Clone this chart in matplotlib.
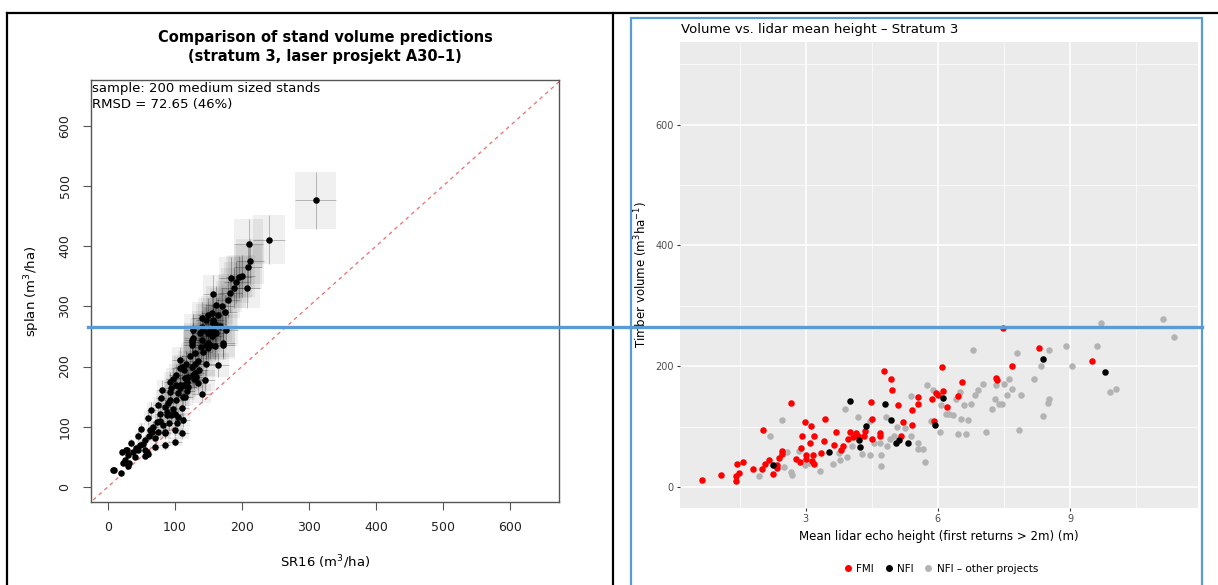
import numpy as np
import matplotlib.pyplot as plt
from matplotlib.patches import Rectangle
from matplotlib.lines import Line2D
from matplotlib.collections import PatchCollection, LineCollection

W, H = 1218, 585

# left panel: SR16 vs splan (m3/ha), 200 medium sized stands
sr16 = [310, 240, 210, 212, 209, 207, 196, 184, 182, 179, 162, 157, 155, 150, 147, 140,
        127, 137, 142, 150, 157, 177, 172, 160, 152, 150, 139, 130, 126, 122, 117, 146,
        165, 107, 110, 125, 132, 120, 114, 102, 97, 93, 102, 95, 81, 107, 113,
        125, 147, 130, 107, 115, 127, 107, 93, 105, 80, 93, 102, 75, 85, 97, 110, 65,
        78, 88, 100, 92, 60, 73, 83, 50, 63, 75, 85, 45, 55, 70, 110, 35, 42, 55, 70,
        28, 30, 25, 40, 55, 60, 30, 32, 23, 10, 8, 20, 112, 100, 100, 85, 105, 115,
        120, 135, 145, 140, 104, 59, 21, 27, 86,
        157, 157, 140, 152, 162, 127, 140, 150, 172, 125,
        90, 68, 48, 118, 135, 142, 165, 170, 188, 192, 130, 112, 95, 78, 62, 38, 45,
        52, 66, 88, 118, 128, 136, 155, 160, 200, 175, 168]
splan = [476, 411, 404, 375, 366, 330, 349, 347, 322, 311, 303, 320, 289, 285, 277, 280,
         261, 255, 261, 255, 261, 261, 236, 234, 236, 231, 232, 222, 244, 217, 205, 205,
         203, 211, 200, 200, 183, 183, 194, 186, 180, 174, 169, 164, 161, 164, 169,
         241, 236, 205, 197, 181, 186, 170, 158, 156, 147, 145, 145, 136, 133, 130, 131, 128,
         122, 120, 122, 106, 114, 108, 103, 97, 94, 91, 91, 84, 78, 81, 89, 73, 65, 62, 67,
         61, 53, 45, 50, 52, 55, 34, 39, 39, 28, 28, 23, 111, 94, 75, 69, 116, 150,
         166, 172, 177, 155, 106, 58, 58, 61, 89,
         277, 272, 266, 261, 255, 247, 244, 239, 239, 236,
         140, 100, 70, 175, 210, 225, 285, 300, 330, 340, 190, 150, 120, 110, 85, 58, 62,
         72, 92, 125, 160, 180, 195, 250, 270, 350, 290, 268]

# right panel: timber volume vs lidar mean height
fmi_x = [0.65, 1.08, 1.42, 1.42, 1.49, 1.44, 1.57, 1.81, 2.01, 2.07, 2.17, 2.25, 2.35, 2.36,
         2.40, 2.47, 2.47, 2.04, 2.66, 2.79, 2.87, 2.89, 2.92, 2.98, 3.01, 3.00, 3.13, 3.11,
         3.19, 3.17, 3.20, 3.15, 3.35, 3.41, 3.44, 3.65, 3.69, 3.80, 3.85, 3.96, 4.00, 4.08,
         4.14, 4.18, 4.33, 4.35, 4.48, 4.50, 4.51, 4.68, 4.68, 4.77, 4.94, 4.96, 5.10, 5.16,
         5.21, 5.41, 5.42, 5.54, 5.55, 5.87, 5.92, 5.95, 6.00, 6.10, 6.11, 6.20, 6.45, 6.54,
         7.32, 7.33, 7.48, 7.69, 8.30, 9.49]
fmi_y = [11, 19, 9, 18, 23, 38, 42, 30, 29, 38, 44, 21, 32, 36,
         48, 54, 59, 94, 139, 47, 41, 64, 84, 108, 47, 52, 101, 72,
         85, 53, 38, 43, 56, 76, 112, 70, 91, 61, 67, 80, 91, 83,
         90, 84, 84, 92, 140, 112, 80, 90, 84, 192, 179, 160, 135, 85,
         107, 102, 128, 149, 138, 145, 109, 155, 152, 198, 159, 133, 150, 173,
         180, 177, 263, 201, 230, 208]
nfi_x = [2.26, 3.53, 4.00, 4.36, 4.20, 4.23, 4.79, 4.93, 5.06, 5.12, 5.32, 5.93, 6.12, 8.39, 9.78]
nfi_y = [36, 57, 143, 101, 78, 66, 138, 110, 73, 77, 73, 102, 147, 212, 190]
other_x = [1.95, 2.20, 2.46, 2.50, 2.67, 2.69, 2.57, 2.84, 3.07, 3.33, 3.61, 3.78, 3.76, 3.93,
           3.90, 4.05, 4.19, 4.27, 4.45, 4.45, 4.54, 4.68, 4.72, 4.70, 4.83, 4.85, 4.92, 5.00,
           5.08, 5.25, 5.38, 5.40, 5.55, 5.55, 5.66, 5.71, 5.75, 5.84, 5.90, 6.05, 6.07, 6.19,
           6.26, 6.35, 6.42, 6.51, 6.53, 6.46, 6.60, 6.64, 6.68, 6.75, 6.79, 6.84, 6.92, 7.03,
           7.09, 7.23, 7.29, 7.31, 7.38, 7.45, 7.50, 7.56, 7.62, 7.67, 7.80, 7.85, 7.89, 8.17,
           8.34, 8.39, 8.49, 8.51, 8.51, 8.91, 9.04, 9.60, 9.69, 9.90, 10.05, 11.11, 11.35, 2.98]
other_y = [18, 85, 111, 33, 25, 20, 58, 60, 39, 26, 38, 45, 56, 50,
           129, 68, 115, 54, 53, 109, 73, 73, 52, 34, 115, 68, 79, 84,
           100, 98, 84, 150, 72, 62, 62, 41, 168, 109, 160, 91, 135, 120,
           120, 119, 146, 157, 112, 87, 136, 88, 111, 137, 226, 152, 160, 171,
           91, 129, 145, 168, 138, 137, 171, 152, 179, 162, 221, 94, 152, 178,
           201, 117, 139, 146, 226, 234, 201, 234, 272, 158, 162, 278, 248, 37]

fig = plt.figure(figsize=(W / 100, H / 100), dpi=100)
plt.rcParams['font.family'] = ['DejaVu Sans']


def fx(x):
    return x / W


def fy(y):
    return 1 - y / H


# ---- left panel (R base graphics look) ----
ax1 = fig.add_axes([fx(91), fy(502), fx(559) - fx(91), fy(80) - fy(502)])
xs = np.array(sr16, float)
ys = np.array(splan, float)
# +-10% uncertainty boxes and crosses behind each stand
boxes = [Rectangle((x * 0.9, y * 0.9), x * 0.2, y * 0.2) for x, y in zip(xs, ys)]
ax1.add_collection(PatchCollection(boxes, facecolor='black', edgecolor='none', alpha=0.06))
segs = [[(x * 0.9, y), (x * 1.1, y)] for x, y in zip(xs, ys)]
segs += [[(x, y * 0.9), (x, y * 1.1)] for x, y in zip(xs, ys)]
ax1.add_collection(LineCollection(segs, colors='black', linewidths=0.7, alpha=0.25))
ax1.plot([-30, 700], [-30, 700], color='#e8474a', lw=0.9, ls=(0, (3, 3)), alpha=0.8)
ax1.scatter(xs, ys, s=22, color='black', zorder=3, linewidths=0)
ax1.set_xlim(-25, 673)
ax1.set_ylim(-25, 676)
ax1.set_xticks(range(0, 700, 100))
ax1.set_yticks(range(0, 700, 100))
for s in ax1.spines.values():
    s.set_color('#555555')
    s.set_linewidth(1.0)
ax1.tick_params(length=6, color='#555555', labelsize=9, labelcolor='#222222', pad=8)
for lab in ax1.get_yticklabels():
    lab.set_rotation(90)
    lab.set_va('center')
ax1.set_xlabel('SR16 (m$^3$/ha)', fontsize=9.5, labelpad=14)
ax1.set_ylabel('splan (m$^3$/ha)', fontsize=9.5, labelpad=12)
ax1.text(0.003, 0.995, 'sample: 200 medium sized stands\nRMSD = 72.65 (46%)',
         transform=ax1.transAxes, ha='left', va='top', fontsize=9.5, linespacing=1.25)
fig.text(fx(325), fy(47), 'Comparison of stand volume predictions\n(stratum 3, laser prosjekt A30\u20131)',
         ha='center', va='center', fontsize=10.5, fontweight='bold', linespacing=1.3)

# ---- right panel (ggplot look) ----
ax2 = fig.add_axes([fx(680), fy(508), fx(1198) - fx(680), fy(42) - fy(508)])
ax2.set_facecolor('#ebebeb')
ax2.scatter(other_x, other_y, s=22, color='#b3b3b3', linewidths=0, zorder=3)
ax2.scatter(fmi_x, fmi_y, s=22, color='#ff0000', linewidths=0, zorder=4)
ax2.scatter(nfi_x, nfi_y, s=22, color='black', linewidths=0, zorder=5)
ax2.set_xlim(0.15, 11.9)
ax2.set_ylim(-35, 737)
ax2.set_xticks([3, 6, 9])
ax2.set_xticks([1.5, 4.5, 7.5, 10.5], minor=True)
ax2.set_yticks([0, 200, 400, 600])
ax2.set_yticks([100, 300, 500, 700], minor=True)
ax2.grid(which='major', color='white', lw=1.1)
ax2.grid(which='minor', color='white', lw=0.5)
ax2.set_axisbelow(True)
for s in ax2.spines.values():
    s.set_visible(False)
ax2.tick_params(which='major', length=2.5, color='#333333', labelsize=7, labelcolor='#4d4d4d', pad=2)
ax2.tick_params(which='minor', length=0)
ax2.set_xlabel('Mean lidar echo height (first returns > 2m) (m)', fontsize=8.5, labelpad=4)
ax2.set_ylabel('Timber volume (m$^3$ha$^{-1}$)', fontsize=8.5, labelpad=4)
fig.text(fx(681), fy(29), 'Volume vs. lidar mean height \u2013 Stratum 3', ha='left', va='center',
         fontsize=9.5)
handles = [Line2D([], [], marker='o', ls='none', color=c, markersize=4)
           for c in ['#ff0000', 'black', '#b3b3b3']]
fig.legend(handles, ['FMI', 'NFI', 'NFI \u2013 other projects'], loc='center',
           bbox_to_anchor=(fx(940), fy(569)), ncol=3, frameon=False, fontsize=7.5,
           handletextpad=0.2, columnspacing=0.8, handlelength=1.2)

# ---- screenshot frame and blue markup ----
black = dict(color='black', lw=1.6, transform=fig.transFigure)
fig.add_artist(Line2D([fx(7), fx(1218)], [fy(13), fy(13)], **black))
fig.add_artist(Line2D([fx(7), fx(7)], [fy(13), fy(585)], **black))
fig.add_artist(Line2D([fx(613), fx(613)], [fy(13), fy(585)], **black))
blue = '#5b9bd5'
fig.add_artist(Rectangle((fx(631), fy(590)), fx(1202) - fx(631), fy(18) - fy(590),
                         fill=False, edgecolor=blue, lw=1.6, transform=fig.transFigure))
fig.add_artist(Line2D([fx(88), fx(1202)], [fy(327), fy(327)], color=blue, lw=2.4,
                      transform=fig.transFigure))

fig.savefig('out.png', dpi=100)
